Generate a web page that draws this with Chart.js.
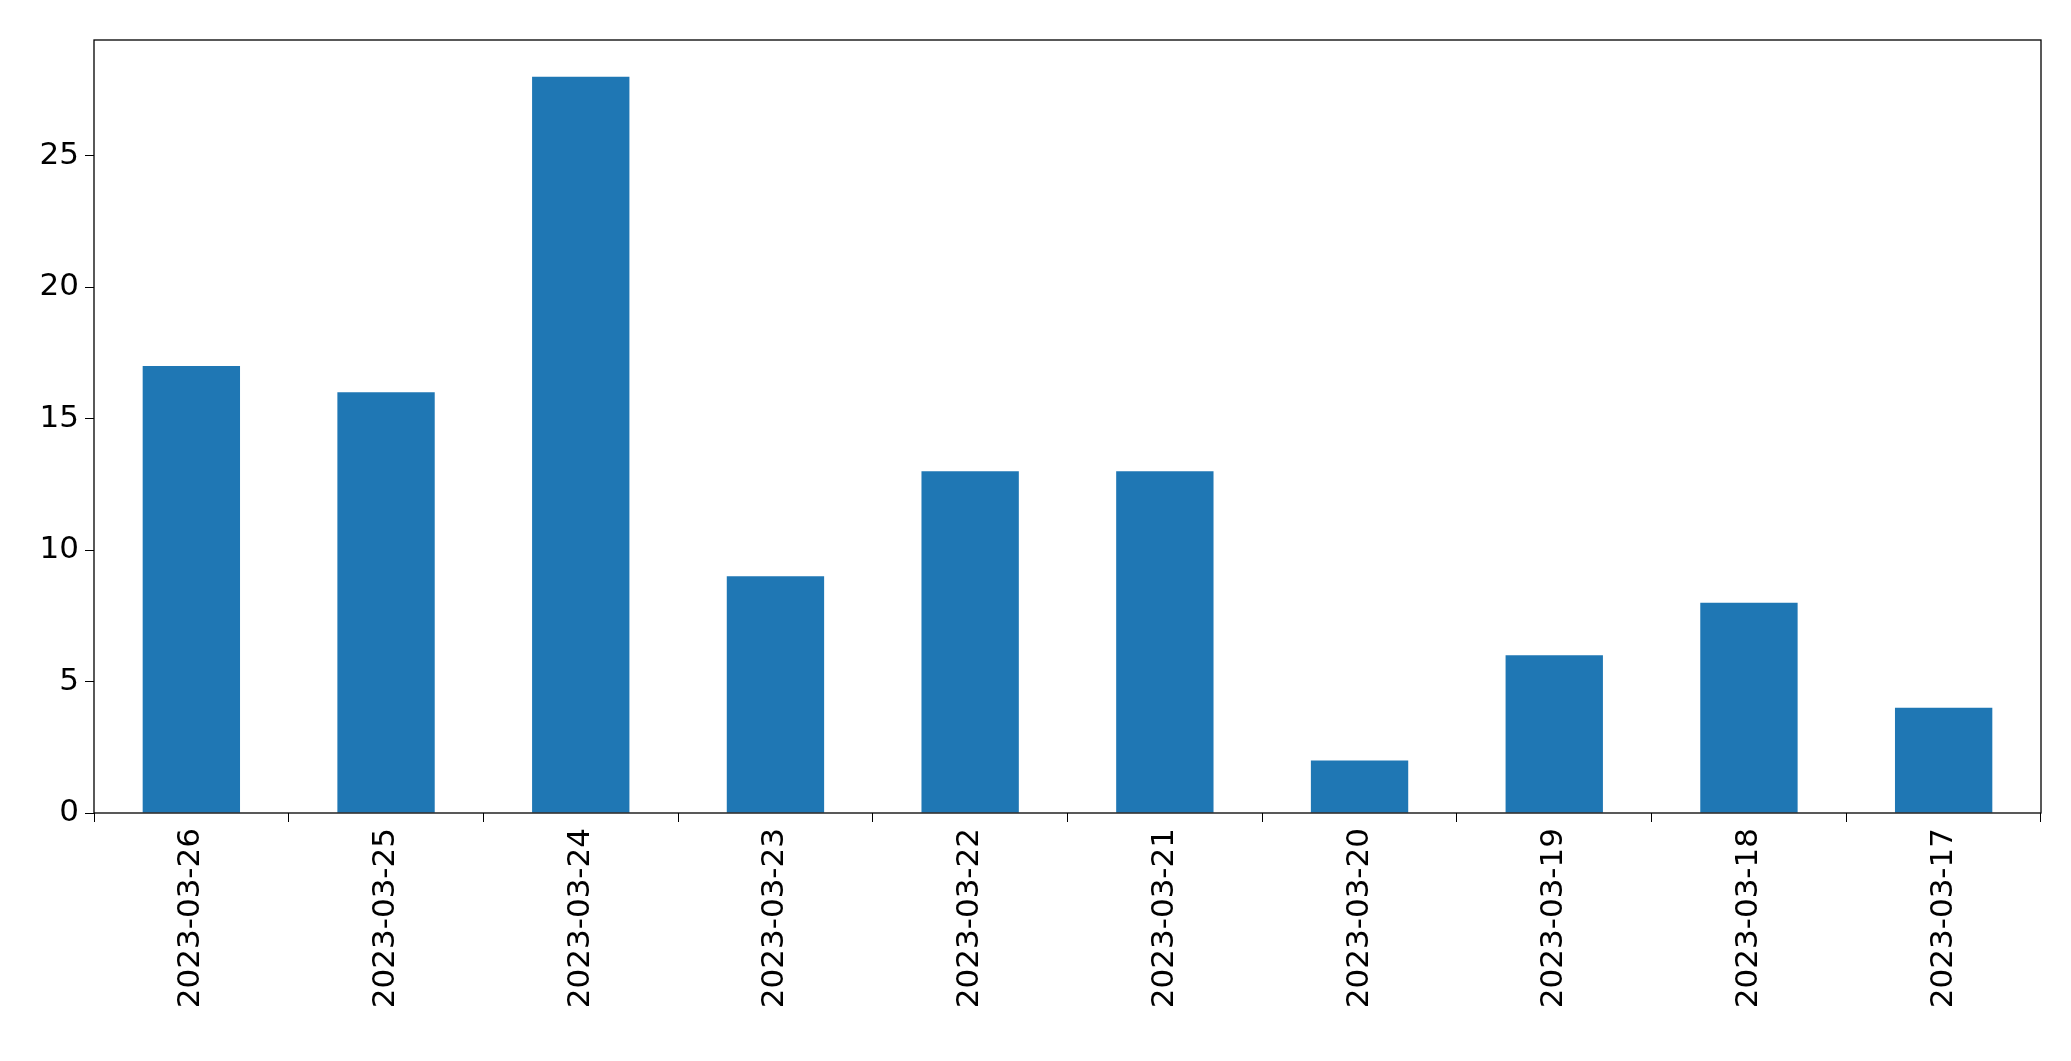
<!DOCTYPE html>
<html>
<head>
<meta charset="utf-8">
<script src="https://cdn.jsdelivr.net/npm/chart.js@4/dist/chart.umd.min.js"></script>
<style>
  html, body { margin: 0; padding: 0; background: #fff; }
  #wrap { width: 2071px; height: 1061px; }
</style>
</head>
<body>
<div id="wrap"><canvas id="c"></canvas></div>
<script>
// ── Data ──
const dates  = ['2023-03-26', '2023-03-25', '2023-03-24', '2023-03-23', '2023-03-22',
                '2023-03-21', '2023-03-20', '2023-03-19', '2023-03-18', '2023-03-17'];
const counts = [17, 16, 28, 9, 13, 13, 2, 6, 8, 4];
const yTicks = [0, 5, 10, 15, 20, 25];

// Frame around the plot area
const frame = {
  id: 'frame',
  afterDraw(chart) {
    const a = chart.chartArea, ctx = chart.ctx;
    ctx.save();
    ctx.strokeStyle = '#000';
    ctx.lineWidth = 1.3;
    ctx.strokeRect(a.left, a.top, a.right - a.left, a.bottom - a.top);
    ctx.restore();
  }
};

const font = { family: 'DejaVu Sans', size: 31 };

new Chart(document.getElementById('c'), {
  type: 'bar',
  data: {
    labels: dates,
    datasets: [{
      data: counts,
      backgroundColor: '#1f77b4',
      barPercentage: 0.5,
      categoryPercentage: 1.0,
    }]
  },
  options: {
    responsive: true,
    maintainAspectRatio: false,
    animation: false,
    layout: { padding: { top: 40, right: 30, left: 0, bottom: 0 } },
    plugins: { legend: { display: false }, tooltip: { enabled: false } },
    scales: {
      x: {
        grid: { drawOnChartArea: false, drawTicks: true, tickLength: 9, color: '#000' },
        border: { display: false },
        ticks: { color: '#000', font, minRotation: 90, maxRotation: 90, padding: 6 },
        afterFit: s => { s.height = 248; }
      },
      y: {
        min: 0,
        max: 29.4,
        afterBuildTicks: s => { s.ticks = yTicks.map(v => ({ value: v })); },
        grid: { drawOnChartArea: false, drawTicks: true, tickLength: 9, color: '#000' },
        border: { display: false },
        ticks: { color: '#000', font, padding: 6 },
        afterFit: s => { s.width = 94; }
      }
    }
  },
  plugins: [frame]
});
</script>
</body>
</html>
